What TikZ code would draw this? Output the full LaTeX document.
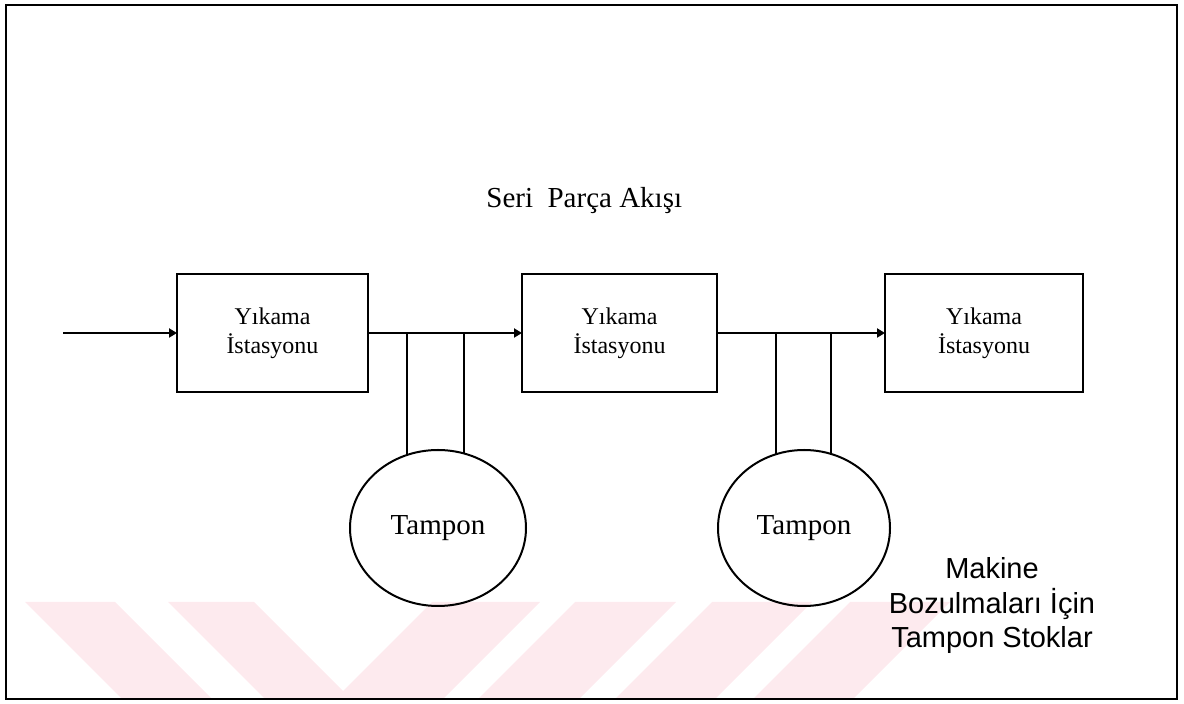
\documentclass[tikz,border=0pt]{standalone}
\usepackage{fontspec}
\setmainfont{Liberation Serif}
\newfontfamily\arialfont{Liberation Sans}
\usetikzlibrary{shapes.geometric,arrows.meta}
\definecolor{wmpink}{RGB}{253,234,238}
\begin{document}
\begin{tikzpicture}[x=0.5pt,y=-0.5pt,
  station/.style={draw,line width=1pt,rectangle,minimum height=59pt,inner sep=0pt,outer sep=0pt,
                  align=center,font=\fontsize{12}{14.5}\selectfont},
  buffer/.style={draw,line width=1pt,ellipse,minimum height=78pt,inner sep=0pt,outer sep=0pt,
                 font=\fontsize{14.5}{17}\selectfont},
  flow/.style={line width=1pt,-{Triangle[length=4pt,width=4.5pt]}},
  leg/.style={line width=0.9pt},
  stripe/.style={fill=wmpink,draw=none},
  note/.style={font=\arialfont\fontsize{14.5}{17}\selectfont,inner sep=0pt,anchor=base}]
\useasboundingbox (0,0) rectangle (1184,704);

% light diagonal band along the bottom
\fill[stripe] (25,602) -- (115,602) -- (212,699) -- (122,699) -- cycle;
\fill[stripe] (168,602) -- (254,602) -- (351,699) -- (265,699) -- cycle;
\fill[stripe] (432,602) -- (540,602) -- (443,699) -- (335,699) -- cycle;
\fill[stripe] (575,602) -- (676,602) -- (579,699) -- (478,699) -- cycle;
\fill[stripe] (712,602) -- (812,602) -- (715,699) -- (615,699) -- cycle;
\fill[stripe] (850,602) -- (950,602) -- (853,699) -- (753,699) -- cycle;

% outer frame
\draw[line width=1pt] (6,5) rectangle (1177,699);

% heading
\node[anchor=base west,inner sep=0pt,font=\fontsize{14.5}{17}\selectfont] (title) at (486,208) {Seri\ \ Parça Akışı};

% washing stations
\node[station,minimum width=95.5pt] (b1) at (272.5,333) {Yıkama\\İstasyonu};
\node[station,minimum width=97.5pt] (b2) at (619.5,333) {Yıkama\\İstasyonu};
\node[station,minimum width=99pt]   (b3) at (984,333)   {Yıkama\\İstasyonu};

% buffers
\node[buffer,minimum width=88pt] (t1) at (438,528) {Tampon};
\node[buffer,minimum width=86pt] (t2) at (804,528) {Tampon};

% part flow
\coordinate (in) at (63,333);
\draw[flow] (in) -- (b1.west);
\draw[flow] (b1.east) -- (b2.west);
\draw[flow] (b2.east) -- (b3.west);

% buffer connections
\draw[leg] (t1.113.9) -- (t1.113.9 |- b1.east);
\draw[leg] (t1.71.1)  -- (t1.71.1 |- b1.east);
\draw[leg] (t2.111.56) -- (t2.111.56 |- b2.east);
\draw[leg] (t2.70.73)  -- (t2.70.73 |- b2.east);

% caption
\node[note] (m1) at (992,579) {Makine};
\node[note] (m2) at (992,614) {Bozulmaları İçin};
\node[note] (m3) at (992,648) {Tampon Stoklar};
\end{tikzpicture}
\end{document}
